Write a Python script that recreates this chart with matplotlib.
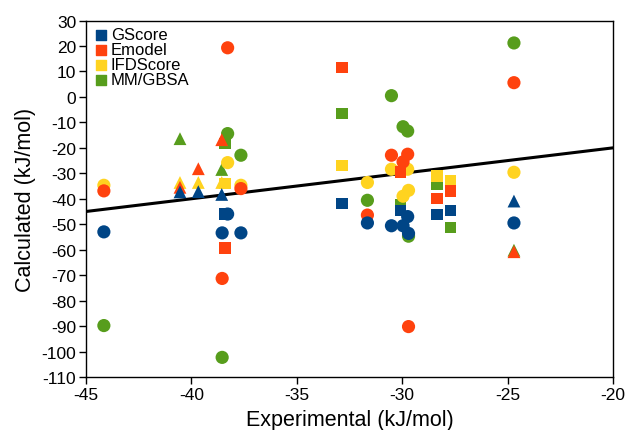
import numpy as np
import matplotlib
matplotlib.use("Agg")
import matplotlib.pyplot as plt

plt.rcParams['font.family'] = ['Liberation Sans', 'DejaVu Sans']
plt.rcParams['axes.unicode_minus'] = False

nan = np.nan

# circle ligands
circ_exp = [-44.15, -38.28, -38.54, -37.65, -31.65, -30.51, -29.96, -29.74, -29.70, -24.7]
circ_gscore = [-53, -46, -53.4, -53.4, -49.5, -50.6, -50.6, -47, -53.6, -49.5]
circ_emodel = [-36.9, 19.3, -71.3, -36, -46.4, -22.9, -25.5, -22.5, -90.2, 5.6]
circ_ifd = [-34.7, -25.8, nan, -34.7, -33.6, -28.4, -39, -28.4, -36.7, -29.6]
circ_mmgbsa = [-89.8, -14.4, -102.3, -22.9, -40.6, 0.5, -11.7, -13.4, -54.7, 21.2]

# square ligands
sq_exp = [-38.4, -32.85, -30.07, -28.35, -27.7]
sq_gscore = [-46, -41.9, -44.5, -46.1, -44.6]
sq_emodel = [-59.3, 11.5, -29.5, -39.9, -36.9]
sq_ifd = [-34, -26.8, nan, -31.1, -33]
sq_mmgbsa = [-18.4, -6.6, -42.5, -34.2, -51.3]

# triangle ligands
tri_exp = [-40.54, -39.67, -38.56, -24.7]
tri_gscore = [-37.3, -37.2, -38.3, -40.9]
tri_emodel = [-35.5, -28.2, -16.8, -60.8]
tri_ifd = [-33.6, -33.6, -33.6, nan]
tri_mmgbsa = [-16.4, nan, -28.5, -60.2]

names = ['GScore', 'Emodel', 'IFDScore', 'MM/GBSA']
colors = ['#004586', '#ff420e', '#ffd320', '#579d1c']

fig = plt.figure(figsize=(6.32, 4.31), dpi=100)
ax = fig.add_axes([0.136, 0.123, 0.834, 0.827])

line_x = [-45, -20]
ax.plot(line_x, line_x, color='black', lw=2.2, zorder=1)

groups = [
    (circ_exp, [circ_gscore, circ_emodel, circ_ifd, circ_mmgbsa], 'o', 90),
    (sq_exp, [sq_gscore, sq_emodel, sq_ifd, sq_mmgbsa], 's', 66),
    (tri_exp, [tri_gscore, tri_emodel, tri_ifd, tri_mmgbsa], '^', 85),
]
# draw green first, blue last
zorders = [6, 5, 4, 3]
for xs, series, mk, sz in groups:
    for ys, c, z in zip(series, colors, zorders):
        ax.scatter(xs, ys, marker=mk, s=sz, color=c, edgecolors='none', zorder=z)

for n, c in zip(names, colors):
    ax.scatter([], [], marker='s', s=55, color=c, label=n)

ax.legend(loc='upper left', frameon=False, fontsize=12, handletextpad=0.1,
          labelspacing=0.0, borderaxespad=0.3, handlelength=1.0,
          borderpad=0.1, scatterpoints=1)

ax.set_xlim(-45, -20)
ax.set_ylim(-110, 30)
ax.set_xticks(np.arange(-45, -19, 5))
ax.set_yticks(np.arange(-110, 31, 10))
ax.tick_params(direction='out', length=5, width=1, labelsize=12.5, colors='black', pad=2)
for s in ax.spines.values():
    s.set_linewidth(1)

ax.set_xlabel('Experimental (kJ/mol)', fontsize=15.5, labelpad=5)
ax.set_ylabel('Calculated (kJ/mol)', fontsize=15.5, labelpad=4)

fig.savefig('out.png', dpi=100)
